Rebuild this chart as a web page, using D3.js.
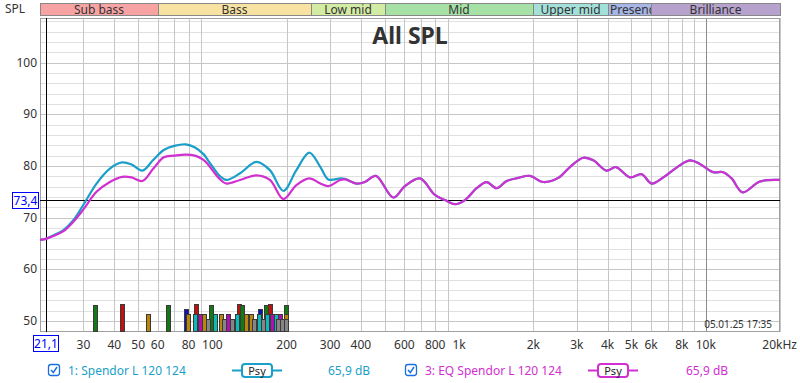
<!DOCTYPE html>
<html><head><meta charset="utf-8">
<script src="https://cdn.jsdelivr.net/npm/d3@7"></script>
<style>body{margin:0;background:#fff;} svg{display:block;font-family:"Noto Sans",sans-serif;}</style>
</head><body><svg id="c" width="800" height="383"></svg>
<script>
// ---------- data ----------
const freqs = [20,21.1,22.5,24.9,27.3,30,33.9,38.4,43,47,52,57.4,63.5,70,78,85,92,96,100,107,114,129.5,151,171,194,219,247,274,295,330,345,384,415,460,541,603,694,798,877,962,1056,1178,1293,1420,1559,1738,1937,2193,2523,2815,3189,3499,3964,4323,4926,5496,6035,6724,7617,8624,9471,10720,11770,12730,14110,16570,20000];
const spl1 = [65.7,65.9,66.5,67.6,69.5,72.5,76.6,79.5,80.7,80.3,79.1,81.1,83.1,83.9,84.2,83.6,82.3,81.1,79.9,78.1,77.3,78.6,80.8,79.2,75.2,79.2,82.6,79.8,77.4,77.6,77.5,76.6,76.9,78.1,73.9,76.1,77.6,74.4,73.4,72.6,73.4,75.7,76.9,75.7,77.1,77.7,78.1,76.9,77.7,79.8,81.6,81.1,79.1,79.8,77.8,78.4,76.6,77.8,79.7,81.1,80.4,78.8,78.8,77.6,74.9,77.0,77.3];
const spl3 = [65.7,65.9,66.4,67.4,69.2,71.6,75.0,76.9,77.9,77.8,77.1,79.4,81.7,82.0,82.2,82.0,81.2,80.3,79.2,77.5,76.6,77.3,78.2,77.3,73.6,76.3,77.6,76.6,76.1,77.3,77.4,76.6,76.9,78.1,73.9,76.1,77.6,74.4,73.4,72.6,73.4,75.7,76.9,75.7,77.1,77.7,78.1,76.9,77.7,79.8,81.6,81.1,79.1,79.8,77.8,78.4,76.6,77.8,79.7,81.1,80.4,78.8,78.8,77.6,74.9,77.0,77.3];
const yTicks = [50,60,70,80,90,100];
const xTickValues = [30,40,50,60,80,100,200,300,400,600,800,1000,2000,3000,4000,5000,6000,8000,10000,20000];
const xTickLabels = ["30","40","50","60","80","100","200","300","400","600","800","1k","2k","3k","4k","5k","6k","8k","10k","20kHz"];
const bandNames = ["Sub bass","Bass","Low mid","Mid","Upper mid","Presence","Brilliance"];
const bandEdges = [20,60,250,500,2000,4000,6000,20000];
const barFreqs  = [33.3,43.0,54.6,66.1,78.4,79.5,85.0,86.1,89.1,92.2,95.7,98.9,102.5,107.9,111.4,115.8,120,125.8,128.2,132,137,143,147.6,154.5,156,160,165.4,166.5,171,175,181,184,188,192,199.6,199.6,199.6];
const barLevels = [53.1,53.2,51.3,53.1,52.3,51.3,51.3,53.2,51.3,51.3,50.3,53.1,51.3,51.3,50.3,51.3,50.3,51.3,53.2,53.1,51.3,51.3,50.3,51.3,52.3,50.3,53.1,51.3,53.2,51.3,51.3,50.3,51.3,50.3,53.1,51.3,50.3];
const barKinds  = ["g","r","y","g","b","y","c","r","m","y","k","g","c","y","k","m","k","c","r","g","y","y","k","c","b","k","g","c","r","m","c","k","m","k","g","y","k"];
const cursorFreq = 21.1, cursorLevel = 73.4;
const seriesNames = ["1: Spendor L 120 124","3: EQ Spendor L 120 124"];
const seriesLevels = ["65,9 dB","65,9 dB"];
const dateStamp = "05.01.25 17:35";
const titleText = "All SPL";

// ---------- styles ----------
const C1 = "#1a9fc9", C3 = "#d030d0";
const bandColors = ["#f7a3a3","#f8e2a2","#d3eca3","#a6e2a6","#a4e0da","#a6b6e6","#b6a2cc"];
const barColor = {g:"#137a13",r:"#c01010",y:"#b8860b",b:"#1010b8",c:"#10b8b8",m:"#b010b0",k:"#858585"};

const svg = d3.select("#c");
const L=40, R=780, T=18, B=332;
const x = d3.scaleLog().domain([20,20000]).range([L,R]);
const y = d3.scaleLinear().domain([47.87,108.65]).range([B,T]);

// grid
const g = svg.append("g");
d3.range(48,109,2).forEach(v=>{
  g.append("line").attr("x1",L).attr("x2",R).attr("y1",Math.round(y(v))+0.5).attr("y2",Math.round(y(v))+0.5)
   .attr("stroke", v%10===0 ? "#c6c6c6" : "#e0e0e0").attr("stroke-width",1);
});
const vg = [];
[10,100,1000].forEach(d=>{for(let k=2;k<=9;k++){ if(d*k>=20 && d*k<=20000) vg.push(d*k);} });
vg.push(10000,20000);
vg.forEach(f=>{
  const dec = (f===100||f===1000||f===10000);
  g.append("line").attr("y1",T).attr("y2",B).attr("x1",Math.round(x(f))+0.5).attr("x2",Math.round(x(f))+0.5)
   .attr("stroke", dec ? "#8a8a8a" : "#c6c6c6").attr("stroke-width",1);
});
// frame
svg.append("rect").attr("x",L+0.5).attr("y",T+0.5).attr("width",R-L-1).attr("height",B-T-1)
  .attr("fill","none").attr("stroke","#a0a0a0");

// bars
const bars = barFreqs.map((f,i)=>({f,l:barLevels[i],k:barKinds[i]}))
  .sort((a,b)=>b.l-a.l);
svg.append("g").selectAll("rect").data(bars).join("rect")
  .attr("x",d=>Math.round(x(d.f))-1.5).attr("width",4)
  .attr("y",d=>Math.round(y(d.l))+0.5).attr("height",d=>B-Math.round(y(d.l))-1)
  .attr("fill",d=>barColor[d.k]).attr("stroke","#3a3a3a").attr("stroke-width",1);

// date stamp
svg.append("text").attr("x",772).attr("y",328).attr("text-anchor","end")
  .attr("font-size",10).attr("fill","#333").text(dateStamp);

// title
svg.append("text").attr("x",410).attr("y",44).attr("text-anchor","middle")
  .attr("font-size",23).attr("font-weight","bold").attr("fill","#333").text(titleText);

// cursors
svg.append("line").attr("x1",Math.round(x(cursorFreq))+0.5).attr("x2",Math.round(x(cursorFreq))+0.5)
  .attr("y1",T).attr("y2",B).attr("stroke","#000");
svg.append("line").attr("x1",L).attr("x2",R).attr("y1",Math.round(y(cursorLevel))+0.5).attr("y2",Math.round(y(cursorLevel))+0.5)
  .attr("stroke","#000");

// curves
const line = d3.line().x(d=>x(d[0])).y(d=>y(d[1])).curve(d3.curveCatmullRom.alpha(0.5));
svg.append("path").datum(freqs.map((f,i)=>[f,spl1[i]])).attr("d",line)
  .attr("fill","none").attr("stroke",C1).attr("stroke-width",2.2);
svg.append("path").datum(freqs.map((f,i)=>[f,spl3[i]])).attr("d",line)
  .attr("fill","none").attr("stroke",C3).attr("stroke-width",2.2);

// y axis labels
svg.append("g").selectAll("text").data(yTicks).join("text")
  .attr("x",37).attr("y",d=>y(d)+4).attr("text-anchor","end")
  .attr("font-size",12).attr("fill","#333").text(d=>d);
// x axis labels
svg.append("g").selectAll("text").data(xTickValues).join("text")
  .attr("x",(d,i)=> i===xTickValues.length-1 ? 797 : x(d))
  .attr("y",349).attr("text-anchor",(d,i)=> i===xTickValues.length-1 ? "end" : "middle")
  .attr("font-size",12).attr("fill","#333").text((d,i)=>xTickLabels[i]);

// cursor boxes
function cbox(cx, cy, w, h, txt){
  svg.append("rect").attr("x",cx+0.5).attr("y",cy+0.5).attr("width",w).attr("height",h)
    .attr("fill","#fff").attr("stroke","#0000ff");
  svg.append("text").attr("x",cx+w/2+0.5).attr("y",cy+h/2+4.5).attr("text-anchor","middle")
    .attr("font-size",12).attr("fill","#0000ff").text(txt);
}
cbox(12,192,26,16,String(cursorLevel).replace(".",","));
cbox(33,335,25,16,String(cursorFreq).replace(".",","));

// SPL label
svg.append("text").attr("x",5).attr("y",13).attr("font-size",12).attr("fill","#333").text("SPL");

// band bar
const bg = svg.append("g");
const defs = svg.append("defs");
bandNames.forEach((n,i)=>{
  const x0 = Math.round(x(bandEdges[i])), x1 = Math.round(x(bandEdges[i+1]));
  bg.append("rect").attr("x",x0+0.5).attr("y",3.5).attr("width",x1-x0).attr("height",12)
    .attr("fill",bandColors[i]).attr("stroke","#888");
  defs.append("clipPath").attr("id","bc"+i).append("rect").attr("x",x0+1).attr("y",2).attr("width",x1-x0-1).attr("height",14);
  const t = bg.append("text").attr("clip-path","url(#bc"+i+")").attr("y",14)
    .attr("font-size",12).attr("fill","#333").text(n);
  const w = t.node().getComputedTextLength();
  if (w > x1-x0-4) t.attr("x",x0+2);
  else t.attr("x",(x0+x1)/2).attr("text-anchor","middle");
});

// legend
const lg = svg.append("g");
const legendX = [{cb:48,tx:68,ln:232,lv:328,c:C1},{cb:405,tx:425,ln:588,lv:686,c:C3}];
legendX.forEach((p,i)=>{
  lg.append("rect").attr("x",p.cb+0.5).attr("y",364.5).attr("width",11).attr("height",11).attr("rx",2.5)
    .attr("fill","#fff").attr("stroke","#1a6fe0").attr("stroke-width",1.3);
  lg.append("path").attr("d",`M${p.cb+3},${370} L${p.cb+5.3},${372.6} L${p.cb+9},${367}`)
    .attr("fill","none").attr("stroke","#1a6fe0").attr("stroke-width",1.5);
  lg.append("text").attr("x",p.tx).attr("y",375).attr("font-size",12).attr("fill",p.c).text(seriesNames[i]);
  lg.append("line").attr("x1",p.ln).attr("x2",p.ln+50).attr("y1",370.5).attr("y2",370.5).attr("stroke",p.c).attr("stroke-width",2);
  lg.append("rect").attr("x",p.ln+10).attr("y",364).attr("width",30).attr("height",13).attr("rx",3)
    .attr("fill","#fff").attr("stroke",p.c).attr("stroke-width",2);
  lg.append("text").attr("x",p.ln+25).attr("y",374.5).attr("text-anchor","middle").attr("font-size",11).attr("fill","#222").text("Psy");
  lg.append("text").attr("x",p.lv).attr("y",375).attr("font-size",12).attr("fill",p.c).text(seriesLevels[i]);
});
</script></body></html>
